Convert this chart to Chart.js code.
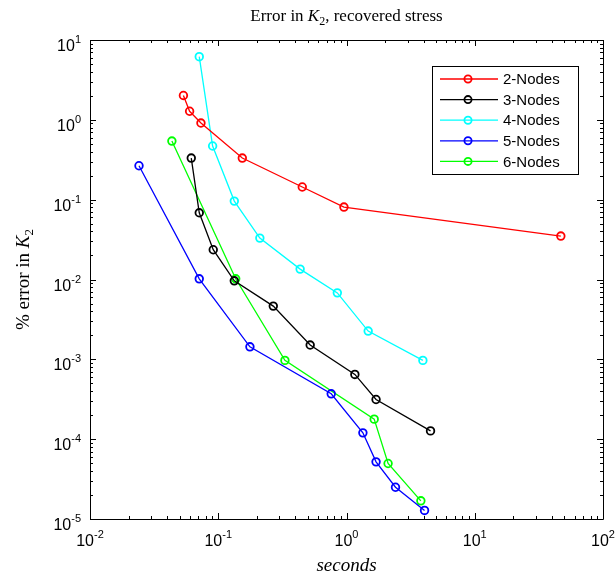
<!DOCTYPE html>
<html>
<head>
<meta charset="utf-8">
<script src="https://cdn.jsdelivr.net/npm/chart.js@4/dist/chart.umd.min.js"></script>
<style>
  html, body { margin: 0; padding: 0; background: #fff; }
  #wrap { width: 615px; height: 578px; }
</style>
</head>
<body>
<div id="wrap"><canvas id="chart" width="615" height="578"></canvas></div>
<script>
(function () {
  'use strict';

  // run time (s) and % error for each element order
  var t2 = [0.0535, 0.0598, 0.0733, 0.154, 0.452, 0.955, 46.9];
  var e2 = [2.02, 1.28, 0.912, 0.332, 0.144, 0.0808, 0.035];

  var t3 = [0.0616, 0.0711, 0.0914, 0.1334, 0.2686, 0.521, 1.162, 1.70, 4.52];
  var e3 = [0.332, 0.0685, 0.0236, 0.00963, 0.00464, 0.00151, 0.000647, 0.000314, 0.000127];

  var t4 = [0.0711, 0.0904, 0.1334, 0.211, 0.435, 0.848, 1.476, 3.94];
  var e4 = [6.18, 0.470, 0.096, 0.033, 0.0135, 0.0068, 0.00226, 0.00097];

  var t5 = [0.0241, 0.0711, 0.1766, 0.760, 1.342, 1.70, 2.41, 4.06];
  var e5 = [0.266, 0.0102, 0.001435, 0.00037, 0.00012, 0.000052, 0.000025, 0.0000128];

  var t6 = [0.0435, 0.1368, 0.331, 1.644, 2.11, 3.80];
  var e6 = [0.542, 0.0102, 0.00097, 0.000178, 0.0000496, 0.0000169];

  var labels = ['2-Nodes', '3-Nodes', '4-Nodes', '5-Nodes', '6-Nodes'];
  var colors = ['#ff0000', '#000000', '#00ffff', '#0000ff', '#00ff00'];

  // decade exponents used for tick labels
  var xDecades = [-2, -1, 0, 1, 2];
  var yDecades = [-5, -4, -3, -2, -1, 0, 1];

  var SERIF = '"Liberation Serif", "DejaVu Serif", serif';
  var SANS  = '"Liberation Sans", Arial, sans-serif';

  function pts(xs, ys) {
    return xs.map(function (x, i) { return { x: x, y: ys[i] }; });
  }

  var series = [[t2, e2], [t3, e3], [t4, e4], [t5, e5], [t6, e6]];
  var datasets = series.map(function (s, i) {
    return {
      label: labels[i],
      data: pts(s[0], s[1]),
      showLine: true,
      borderColor: colors[i],
      backgroundColor: 'rgba(0,0,0,0)',
      borderWidth: 1.3,
      pointRadius: 3.8,
      pointBorderWidth: 1.8,
      pointBorderColor: colors[i],
      pointBackgroundColor: 'rgba(0,0,0,0)'
    };
  });

  // draw a run of text pieces (font / vertical shift) starting at x
  function runWidth(ctx, parts) {
    var w = 0;
    parts.forEach(function (p) { ctx.font = p.font; w += ctx.measureText(p.text).width; });
    return w;
  }
  function drawRun(ctx, parts, x, y, align) {
    var w = runWidth(ctx, parts);
    if (align === 'center') x -= w / 2;
    else if (align === 'right') x -= w;
    ctx.textAlign = 'left';
    ctx.textBaseline = 'alphabetic';
    parts.forEach(function (p) {
      ctx.font = p.font;
      ctx.fillText(p.text, x, y + (p.dy || 0));
      x += ctx.measureText(p.text).width;
    });
  }

  function powLabel(exp) {
    return [
      { text: '10', font: '16px ' + SANS },
      { text: String(exp), font: '11px ' + SANS, dy: -8 }
    ];
  }

  // MATLAB-style frame: box, inward ticks, 10^n labels, legend, titles
  var framePlugin = {
    id: 'frame',
    afterDatasetsDraw: function (chart) {
      var ctx = chart.ctx;
      var a = chart.chartArea;
      var xs = chart.scales.x, ys = chart.scales.y;
      ctx.save();
      ctx.strokeStyle = '#000';
      ctx.fillStyle = '#000';
      ctx.lineWidth = 1;

      ctx.beginPath();
      ctx.rect(Math.round(a.left) + 0.5, Math.round(a.top) + 0.5,
               Math.round(a.right - a.left), Math.round(a.bottom - a.top));
      ctx.stroke();

      var MAJ = 6, MIN = 3;
      ctx.beginPath();
      xDecades.forEach(function (d, k) {
        for (var m = 1; m <= 9; m++) {
          if (m > 1 && k === xDecades.length - 1) break;
          var px = Math.round(xs.getPixelForValue(m * Math.pow(10, d))) + 0.5;
          var len = m === 1 ? MAJ : MIN;
          ctx.moveTo(px, a.bottom); ctx.lineTo(px, a.bottom - len);
          ctx.moveTo(px, a.top);    ctx.lineTo(px, a.top + len);
        }
      });
      yDecades.forEach(function (d, k) {
        for (var m = 1; m <= 9; m++) {
          if (m > 1 && k === yDecades.length - 1) break;
          var py = Math.round(ys.getPixelForValue(m * Math.pow(10, d))) + 0.5;
          var len = m === 1 ? MAJ : MIN;
          ctx.moveTo(a.left, py);  ctx.lineTo(a.left + len, py);
          ctx.moveTo(a.right, py); ctx.lineTo(a.right - len, py);
        }
      });
      ctx.stroke();

      xDecades.forEach(function (d) {
        var px = xs.getPixelForValue(Math.pow(10, d));
        drawRun(ctx, powLabel(d), px, a.bottom + 27, 'center');
      });
      yDecades.forEach(function (d) {
        var py = ys.getPixelForValue(Math.pow(10, d));
        drawRun(ctx, powLabel(d), a.left - 9, py + 11, 'right');
      });

      // title and axis titles
      var cx = (a.left + a.right) / 2;
      drawRun(ctx, [
        { text: 'Error in ', font: '17px ' + SERIF },
        { text: 'K', font: 'italic 17px ' + SERIF },
        { text: '2', font: '12px ' + SERIF, dy: 4 },
        { text: ', recovered stress', font: '17px ' + SERIF }
      ], cx, 21, 'center');

      drawRun(ctx, [{ text: 'seconds', font: 'italic 19px ' + SERIF }], cx, 571, 'center');

      ctx.save();
      ctx.translate(29, (a.top + a.bottom) / 2);
      ctx.rotate(-Math.PI / 2);
      drawRun(ctx, [
        { text: '% error in ', font: '19px ' + SERIF },
        { text: 'K', font: 'italic 19px ' + SERIF },
        { text: '2', font: '13px ' + SERIF, dy: 4 }
      ], 0, 0, 'center');
      ctx.restore();

      // legend box
      var L = { x: 432, y: 66, w: 146, h: 108, row: 20.6, first: 79 };
      ctx.fillStyle = '#fff';
      ctx.fillRect(L.x, L.y, L.w, L.h);
      ctx.strokeStyle = '#000';
      ctx.lineWidth = 1;
      ctx.strokeRect(L.x + 0.5, L.y + 0.5, L.w, L.h);
      chart.data.datasets.forEach(function (ds, i) {
        var y = L.first + i * L.row;
        ctx.strokeStyle = ds.borderColor;
        ctx.lineWidth = 1.3;
        ctx.beginPath();
        ctx.moveTo(L.x + 8, y); ctx.lineTo(L.x + 66, y);
        ctx.stroke();
        ctx.lineWidth = 1.8;
        ctx.beginPath();
        ctx.arc(L.x + 36, y, 3.6, 0, Math.PI * 2);
        ctx.stroke();
        ctx.fillStyle = '#000';
        ctx.font = '15px ' + SANS;
        ctx.textAlign = 'left';
        ctx.textBaseline = 'middle';
        ctx.fillText(ds.label, L.x + 71, y + 1);
      });
      ctx.restore();
    }
  };

  new Chart(document.getElementById('chart'), {
    type: 'scatter',
    data: { datasets: datasets },
    options: {
      responsive: false,
      animation: false,
      layout: { padding: { left: 90, right: 12, top: 40, bottom: 59 } },
      plugins: { legend: { display: false }, tooltip: { enabled: false }, title: { display: false } },
      scales: {
        x: { type: 'logarithmic', min: 0.01, max: 100, display: false },
        y: { type: 'logarithmic', min: 1e-5, max: 10, display: false }
      }
    },
    plugins: [framePlugin]
  });
}());
</script>
</body>
</html>
